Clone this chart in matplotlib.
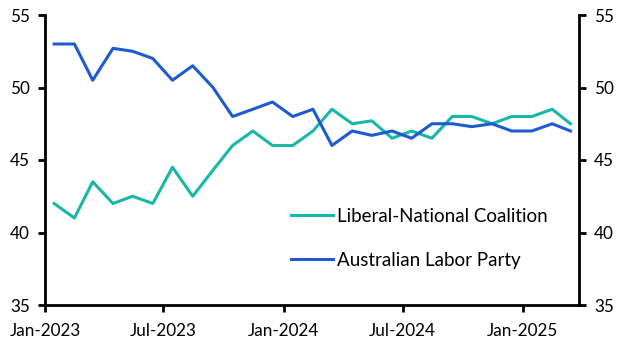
import numpy as np
import pandas as pd
import matplotlib
matplotlib.use("Agg")
import matplotlib.pyplot as plt
import matplotlib.dates as mdates

# monthly poll readings, plotted mid-month
dates = pd.date_range("2023-01-01", periods=27, freq="MS") + pd.Timedelta(days=14)
coalition = [42.0, 41.0, 43.5, 42.0, 42.5, 42.0, 44.5, 42.5, 44.3, 46.0, 47.0, 46.0, 46.0,
             47.0, 48.5, 47.5, 47.7, 46.5, 47.0, 46.5, 48.0, 48.0, 47.5, 48.0, 48.0, 48.5, 47.5]
labor = [53.0, 53.0, 50.5, 52.7, 52.5, 52.0, 50.5, 51.5, 50.0, 48.0, 48.5, 49.0, 48.0,
         48.5, 46.0, 47.0, 46.7, 47.0, 46.5, 47.5, 47.5, 47.3, 47.5, 47.0, 47.0, 47.5, 47.0]
yticks = [35, 40, 45, 50, 55]

plt.rcParams["font.family"] = ["Lato", "DejaVu Sans"]

fig = plt.figure(figsize=(6.31, 3.57), dpi=100)
ax = fig.add_axes([45 / 631, 52 / 357, 534 / 631, 290 / 357])

ax.plot(dates, coalition, color="#17b8a6", lw=2.2, label="Liberal-National Coalition")
ax.plot(dates, labor, color="#1f5bd0", lw=2.2, label="Australian Labor Party")

ax.set_ylim(35, 55)
ax.set_yticks(yticks)
ax.set_xlim(pd.Timestamp("2023-01-01"), pd.Timestamp("2025-03-28"))
ax.xaxis.set_major_locator(mdates.MonthLocator(bymonth=[1, 7]))
ax.xaxis.set_major_formatter(mdates.DateFormatter("%b-%Y"))

ax2 = ax.twinx()
ax2.set_ylim(35, 55)
ax2.set_yticks(yticks)

for a in (ax, ax2):
    a.spines["top"].set_visible(False)
    for s in a.spines.values():
        s.set_linewidth(2)
    a.tick_params(width=2, length=5, pad=6, labelsize=12.3)
ax.tick_params(axis="x", pad=8)
ax.spines["right"].set_visible(False)
ax2.spines["left"].set_visible(False)
ax2.spines["bottom"].set_visible(False)

ax.legend(loc="upper left", bbox_to_anchor=(0.4607, 0.336), frameon=False,
          borderpad=0, borderaxespad=0, handlelength=2.24, handletextpad=0.2,
          labelspacing=1.45, fontsize=13.5)

fig.savefig("out.png", dpi=100)
